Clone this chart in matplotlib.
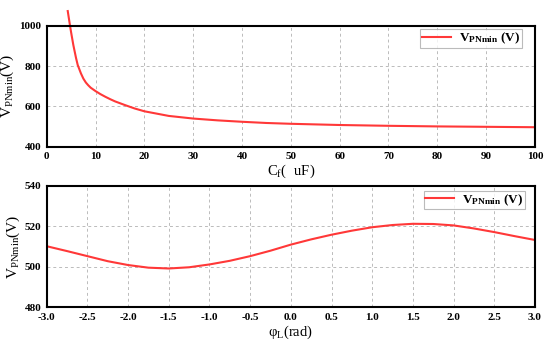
import matplotlib
matplotlib.use("Agg")
import matplotlib.pyplot as plt

# Top panel data: V_PNmin vs Cf
cf_vals = [4.3, 4.77, 5.0, 5.45, 6.0, 6.35, 7.0, 7.5, 8.0, 8.5, 9.0, 10, 11, 12, 13, 14, 16, 18, 20,
           25, 30, 35, 40, 45, 50, 60, 70, 80, 90, 100]
v_cf = [1073, 1000, 966, 904, 840, 805, 764, 738, 719, 705, 693, 676, 661, 648, 636, 625, 607, 590, 576,
        553, 540, 531, 524, 518, 514, 508, 504, 501, 499, 497]

# Bottom panel data: V_PNmin vs phi_L
phi_vals = [-3.0, -2.75, -2.5, -2.25, -2.0, -1.75, -1.5, -1.25, -1.0, -0.75, -0.5, -0.25,
            0.0, 0.25, 0.5, 0.75, 1.0, 1.25, 1.5, 1.75, 2.0, 2.25, 2.5, 2.75, 3.0]
v_phi = [510.2, 507.8, 505.3, 502.8, 500.9, 499.6, 499.2, 499.8, 501.2, 503.0, 505.3, 508.0,
         511.0, 513.6, 515.9, 517.9, 519.6, 520.7, 521.3, 521.2, 520.5, 519.0, 517.2, 515.2, 513.3]

top_xticks = [0, 10, 20, 30, 40, 50, 60, 70, 80, 90, 100]
top_yticks = [400, 600, 800, 1000]
bot_xticks = [-3.0, -2.5, -2.0, -1.5, -1.0, -0.5, 0.0, 0.5, 1.0, 1.5, 2.0, 2.5, 3.0]
bot_yticks = [480, 500, 520, 540]

plt.rcParams['font.family'] = ['Liberation Serif', 'Noto Sans CJK SC']
plt.rcParams['font.weight'] = 'bold'
plt.rcParams['mathtext.fontset'] = 'custom'
plt.rcParams['mathtext.rm'] = 'Liberation Serif:bold'
plt.rcParams['mathtext.it'] = 'Liberation Serif:bold'
plt.rcParams['mathtext.bf'] = 'Liberation Serif:bold'

fig = plt.figure(figsize=(5.5, 3.47), dpi=100)
ax1 = fig.add_axes([0.085, 0.577, 0.8876, 0.3487])
ax2 = fig.add_axes([0.085, 0.1144, 0.8876, 0.3496])

red = '#ff3838'
ylab = r'$\mathregular{V_{PNmin}(V)}$'
leglab = r'$\mathregular{V_{PNmin}\ (V)}$'

ax1.plot(cf_vals, v_cf, color=red, lw=1.5, label=leglab, clip_on=False)
ax1.set_xlim(0, 100)
ax1.set_ylim(400, 1000)
ax1.set_xticks(top_xticks)
ax1.set_yticks(top_yticks)
ax1.set_xlabel(r'$\mathregular{C_f(\ \ uF)}$', fontsize=10.5, labelpad=1)
ax1.set_ylabel(ylab, fontsize=11, labelpad=2)

ax2.plot(phi_vals, v_phi, color=red, lw=1.5, label=leglab)
ax2.set_xlim(-3, 3)
ax2.set_ylim(480, 540)
ax2.set_xticks(bot_xticks)
ax2.set_xticklabels([f'{t:.1f}' for t in bot_xticks])
ax2.set_yticks(bot_yticks)
ax2.set_xlabel(r'$\mathregular{\varphi_L(rad)}$', fontsize=10.5, labelpad=1)
ax2.set_ylabel(ylab, fontsize=11, labelpad=2)

anchors = [(0.973, 0.97), (0.98, 0.961)]
for ax, anc in zip((ax1, ax2), anchors):
    ax.grid(True, color='#bbbbbb', linestyle=(0, (3, 3)), linewidth=0.7)
    for s in ax.spines.values():
        s.set_linewidth(1.5)
        s.set_color('black')
    ax.tick_params(direction='in', length=0, labelsize=8, pad=4)
    for lab in ax.get_xticklabels() + ax.get_yticklabels():
        lab.set_fontweight('bold')
    leg = ax.legend(loc='upper right', fontsize=9.5, frameon=True, fancybox=False,
                    edgecolor='#aaaaaa', borderpad=0.12, handlelength=2.2,
                    handletextpad=0.6, borderaxespad=0, bbox_to_anchor=anc)
    leg.get_frame().set_linewidth(0.8)

fig.savefig('out.png', dpi=100)
